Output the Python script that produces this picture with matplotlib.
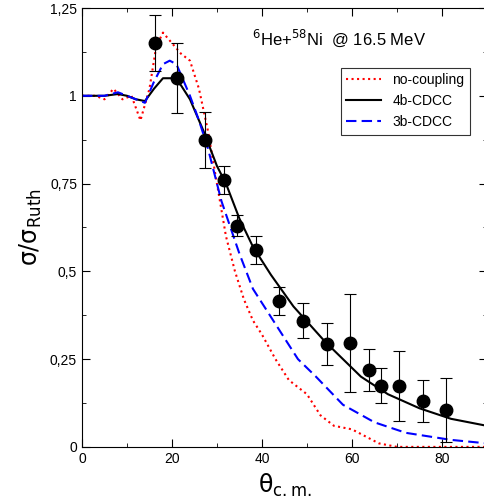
import matplotlib
matplotlib.use("Agg")
import matplotlib.pyplot as plt
from matplotlib.ticker import FuncFormatter

plt.rcParams["mathtext.fontset"] = "dejavusans"
plt.rcParams["font.family"] = ["Liberation Sans", "DejaVu Sans"]

exp_x = [16.2, 21.1, 27.3, 31.6, 34.4, 38.7, 43.8, 49.1, 54.4, 59.6, 63.8, 66.4, 70.4, 75.8, 80.9]
exp_y = [1.15, 1.05, 0.875, 0.76, 0.63, 0.56, 0.416, 0.359, 0.293, 0.296, 0.22, 0.174, 0.174, 0.131, 0.105]
exp_err = [0.08, 0.10, 0.08, 0.04, 0.03, 0.04, 0.04, 0.05, 0.06, 0.14, 0.06, 0.05, 0.10, 0.06, 0.09]

nc_x = [0, 3, 5, 7, 9, 11, 13, 15, 16.5, 18, 20, 22, 24, 26, 28, 30, 32, 34, 36, 38, 40, 43, 46, 50, 53, 56, 60, 63, 66, 70, 80, 90]
nc_y = [1.0, 1.0, 0.99, 1.02, 0.99, 1.0, 0.93, 1.02, 1.14, 1.18, 1.15, 1.12, 1.1, 1.02, 0.9, 0.75, 0.6, 0.5, 0.42, 0.36, 0.32, 0.25, 0.19, 0.15, 0.09, 0.06, 0.05, 0.03, 0.01, 0.0, 0.0, 0.0]

b4_x = [0, 5, 8, 10, 12, 14, 16, 18, 20, 22, 24, 27, 30, 32, 35, 38, 42, 47, 54, 62, 68, 75, 82, 90]
b4_y = [1.0, 1.0, 1.005, 1.0, 0.99, 0.985, 1.02, 1.05, 1.05, 1.03, 0.99, 0.9, 0.8, 0.75, 0.65, 0.57, 0.49, 0.4, 0.3, 0.2, 0.15, 0.11, 0.08, 0.06]

b3_x = [0, 5, 8, 10, 12, 14, 16, 18, 19.5, 21, 24, 26, 28, 31, 35, 38, 43, 48, 52, 58, 65, 72, 82, 90]
b3_y = [1.0, 1.0, 1.01, 1.0, 0.99, 0.98, 1.04, 1.09, 1.1, 1.09, 1.0, 0.93, 0.85, 0.7, 0.55, 0.45, 0.35, 0.25, 0.2, 0.12, 0.07, 0.04, 0.02, 0.01]

fig = plt.figure(figsize=(4.85, 5.01), dpi=100)
ax = fig.add_axes([0.169, 0.108, 0.835, 0.876])
ax.plot(nc_x, nc_y, color="red", ls=":", lw=1.5, label="no-coupling")
ax.plot(b4_x, b4_y, color="black", ls="-", lw=1.5, label="4b-CDCC")
ax.plot(b3_x, b3_y, color="blue", ls=(0, (5, 2.5)), lw=1.5, label="3b-CDCC")
ax.errorbar(exp_x, exp_y, yerr=exp_err, fmt="o", color="black", ms=9, capsize=4, elinewidth=0.8, capthick=0.8)

ax.set_xlim(0, 90)
ax.set_ylim(0, 1.25)
ax.set_xticks([0, 20, 40, 60, 80])
ax.set_xticks([10, 30, 50, 70, 90], minor=True)
ax.set_yticks([0, 0.25, 0.5, 0.75, 1.0, 1.25])
ax.set_yticks([0.125, 0.375, 0.625, 0.875, 1.125], minor=True)
ax.yaxis.set_major_formatter(FuncFormatter(lambda v, p: ("%g" % v).replace(".", ",")))
ax.tick_params(direction="in", which="both", top=True, right=True, labelsize=10)
ax.tick_params(which="major", length=6)
ax.tick_params(which="minor", length=3)
ax.set_xlabel(r"$\mathrm{\theta}_{\mathrm{c.m.}}$", fontsize=17)
ax.set_ylabel(r"$\mathrm{\sigma/\sigma_{Ruth}}$", fontsize=17)
ax.text(0.42, 0.915, r"$^{6}$He+$^{58}$Ni  @ 16.5 MeV", transform=ax.transAxes, fontsize=12)
leg = ax.legend(loc="upper right", bbox_to_anchor=(0.975, 0.88), fancybox=False, edgecolor="black",
                fontsize=10, handlelength=2.5)
leg.get_frame().set_linewidth(0.8)
fig.savefig("out.png", dpi=100)
